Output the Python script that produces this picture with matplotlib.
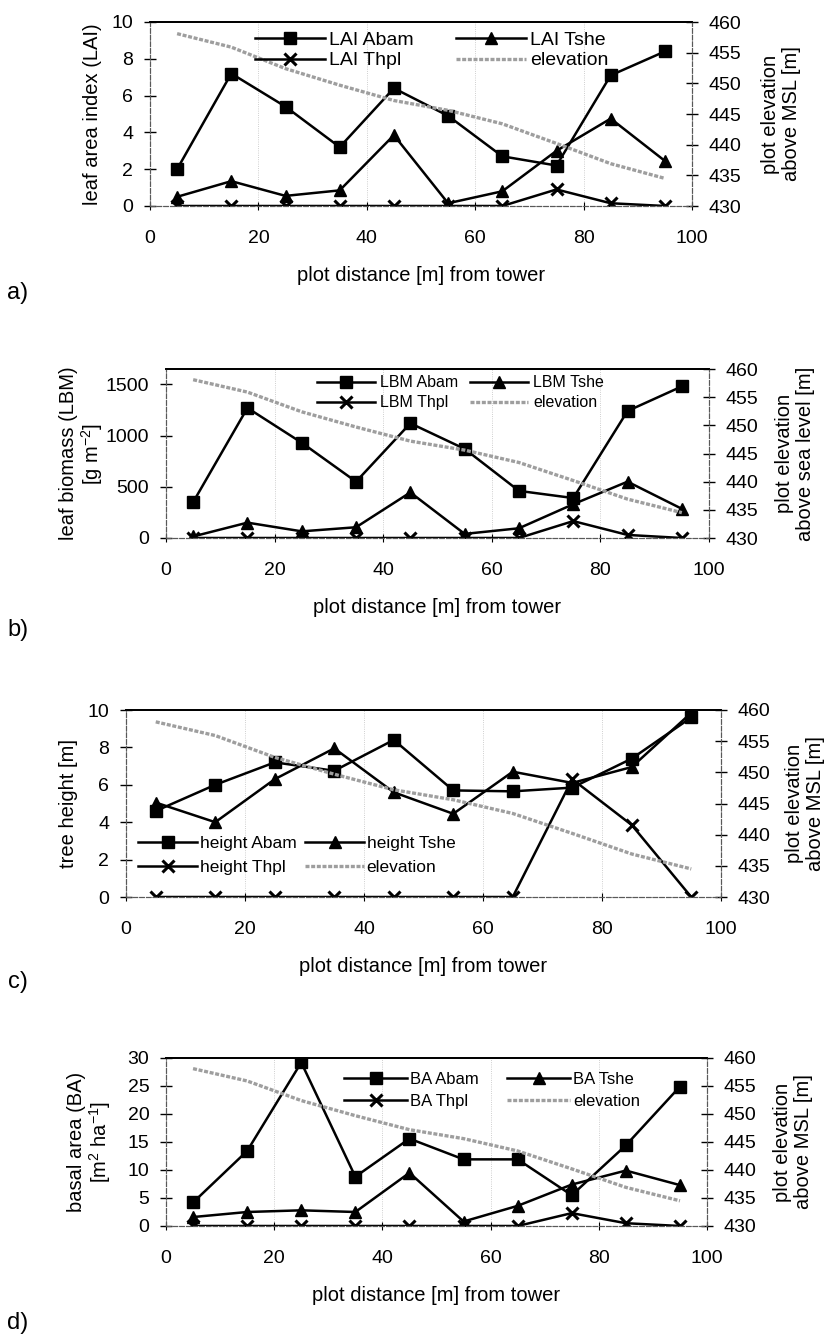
import matplotlib
matplotlib.use('Agg')
import matplotlib.pyplot as plt

plt.rcParams['font.family'] = ['Liberation Sans', 'DejaVu Sans']
plt.rcParams['mathtext.default'] = 'regular'

W, H = 833, 1338

# plot centres along the transect [m]
distance = [5, 15, 25, 35, 45, 55, 65, 75, 85, 95]
elevation = [458.1, 455.9, 452.4, 449.7, 447.2, 445.6, 443.4, 440.2, 436.9, 434.5]

lai_abam = [2.0, 7.2, 5.4, 3.2, 6.4, 4.9, 2.7, 2.2, 7.1, 8.4]
lai_tshe = [0.5, 1.35, 0.55, 0.85, 3.85, 0.15, 0.8, 3.0, 4.75, 2.45]
lai_thpl = [0, 0, 0, 0, 0, 0, 0, 0.9, 0.15, 0]

lbm_abam = [350, 1270, 930, 550, 1120, 870, 460, 390, 1240, 1480]
lbm_tshe = [15, 150, 65, 105, 445, 40, 95, 330, 550, 285]
lbm_thpl = [0, 0, 0, 0, 0, 0, 0, 165, 30, 0]

height_abam = [4.6, 6.0, 7.2, 6.75, 8.4, 5.7, 5.65, 5.85, 7.4, 9.6]
height_tshe = [5.05, 4.0, 6.3, 7.95, 5.6, 4.45, 6.7, 6.1, 6.95, 9.85]
height_thpl = [0, 0, 0, 0, 0, 0, 0, 6.3, 3.85, 0]

ba_abam = [4.2, 13.4, 29.2, 8.8, 15.6, 11.9, 11.9, 5.5, 14.4, 24.9]
ba_tshe = [1.6, 2.5, 2.8, 2.5, 9.5, 0.8, 3.6, 7.4, 9.9, 7.3]
ba_thpl = [0, 0, 0, 0, 0, 0, 0, 2.3, 0.5, 0]

fig = plt.figure(figsize=(W / 100, H / 100), dpi=100)


def px_axes(left, top, right, bottom):
    return fig.add_axes([left / W, 1 - bottom / H, (right - left) / W, (bottom - top) / H])


def px_text(x, y, s, **kw):
    fig.text(x / W, 1 - y / H, s, **kw)


panels = [
    dict(box=(150, 22, 692, 206), ylim=(0, 10), yticks=range(0, 11, 2),
         series=(lai_abam, lai_tshe, lai_thpl), prefix='LAI',
         left_label='leaf area index (LAI)', left_x=93,
         right_label='plot elevation\nabove MSL [m]', right_x=781,
         leg_xy=(255, 43), leg_fs=14, leg_sp=0.15, leg_col=2.2, leg_hl=3.6, leg_pad=0.2,
         letter='a)', letter_y=293),
    dict(box=(166, 369, 709, 538), ylim=(0, 1650), yticks=range(0, 1501, 500),
         series=(lbm_abam, lbm_tshe, lbm_thpl), prefix='LBM',
         left_label='leaf biomass (LBM)\n[g m$^{-2}$]', left_x=82,
         right_label='plot elevation\nabove sea level [m]', right_x=795,
         leg_xy=(317, 385), leg_fs=11.5, leg_sp=0.3, leg_col=0.75, leg_hl=3.6, leg_pad=0.35,
         letter='b)', letter_y=630),
    dict(box=(126, 710, 721, 897), ylim=(0, 10), yticks=range(0, 11, 2),
         series=(height_abam, height_tshe, height_thpl), prefix='height',
         left_label='tree height [m]', left_x=69,
         right_label='plot elevation\nabove MSL [m]', right_x=805,
         leg_xy=(138, 846), leg_fs=12.5, leg_sp=0.55, leg_col=0.5, leg_hl=3.4, leg_pad=0.15,
         letter='c)', letter_y=982),
    dict(box=(166, 1058, 707, 1226), ylim=(0, 30), yticks=range(0, 31, 5),
         series=(ba_abam, ba_tshe, ba_thpl), prefix='BA',
         left_label='basal area (BA)\n[m$^2$ ha$^{-1}$]', left_x=90,
         right_label='plot elevation\nabove MSL [m]', right_x=793,
         leg_xy=(344, 1082), leg_fs=12, leg_sp=0.4, leg_col=1.7, leg_hl=3.8, leg_pad=0.15,
         letter='d)', letter_y=1323),
]

for p in panels:
    left, top, right, bottom = p['box']
    ax = px_axes(left, top, right, bottom)
    ax2 = ax.twinx()

    abam, tshe, thpl = p['series']
    h1, = ax.plot(distance, abam, color='black', lw=1.8, marker='s', ms=8,
                  label=p['prefix'] + ' Abam')
    h2, = ax.plot(distance, tshe, color='black', lw=1.8, marker='^', ms=8,
                  label=p['prefix'] + ' Tshe')
    h3, = ax.plot(distance, thpl, color='black', lw=1.8, marker='x', ms=9, mew=2.2,
                  label=p['prefix'] + ' Thpl')
    # elevation trend: light grey, finely broken line
    h4, = ax2.plot(distance, elevation, color='0.62', lw=2.4, ls=(0, (1.2, 0.5)),
                   label='elevation')

    ax.set_xlim(0, 100)
    ax.set_ylim(*p['ylim'])
    ax.set_yticks(list(p['yticks']))
    ax.set_xticks(range(0, 101, 20))
    ax2.set_ylim(430, 460)
    ax2.set_yticks(range(430, 461, 5))

    for a in (ax, ax2):
        for side in ('left', 'right', 'bottom'):
            a.spines[side].set_linestyle((0, (4, 2)))
            a.spines[side].set_linewidth(0.8)
            a.spines[side].set_color('0.35')
        a.spines['top'].set_linewidth(1.3)
        a.spines['top'].set_color('black')
        a.tick_params(axis='y', direction='inout', length=8, width=1, labelsize=14, pad=8)
    ax.tick_params(axis='x', direction='inout', length=6, width=0.8, labelsize=14, pad=14)
    ax.grid(axis='x', linestyle=':', color='0.75', lw=0.6)

    ax.set_xlabel('plot distance [m] from tower', fontsize=14.5, labelpad=14)

    ymid = (top + bottom) / 2
    px_text(p['left_x'], ymid, p['left_label'], rotation=90, ha='center', va='center',
            fontsize=14.5, multialignment='center', linespacing=1.1)
    px_text(p['right_x'], ymid, p['right_label'], rotation=90, ha='center', va='center',
            fontsize=14.5, multialignment='center', linespacing=1.1)
    px_text(18, p['letter_y'], p['letter'], ha='center', va='center', fontsize=17)

    lx, ly = p['leg_xy']
    fs_px = p['leg_fs'] * 100 / 72
    ax2.legend([h1, h3, h2, h4], [h1.get_label(), h3.get_label(), h2.get_label(), 'elevation'],
               ncol=2, frameon=False, fontsize=p['leg_fs'], loc='upper left',
               bbox_to_anchor=(lx / W, 1 - (ly - 0.6 * fs_px) / H),
               bbox_transform=fig.transFigure, borderpad=0, borderaxespad=0,
               handlelength=p['leg_hl'], handletextpad=p['leg_pad'],
               labelspacing=p['leg_sp'], columnspacing=p['leg_col'])

fig.savefig('out.png', dpi=100)
